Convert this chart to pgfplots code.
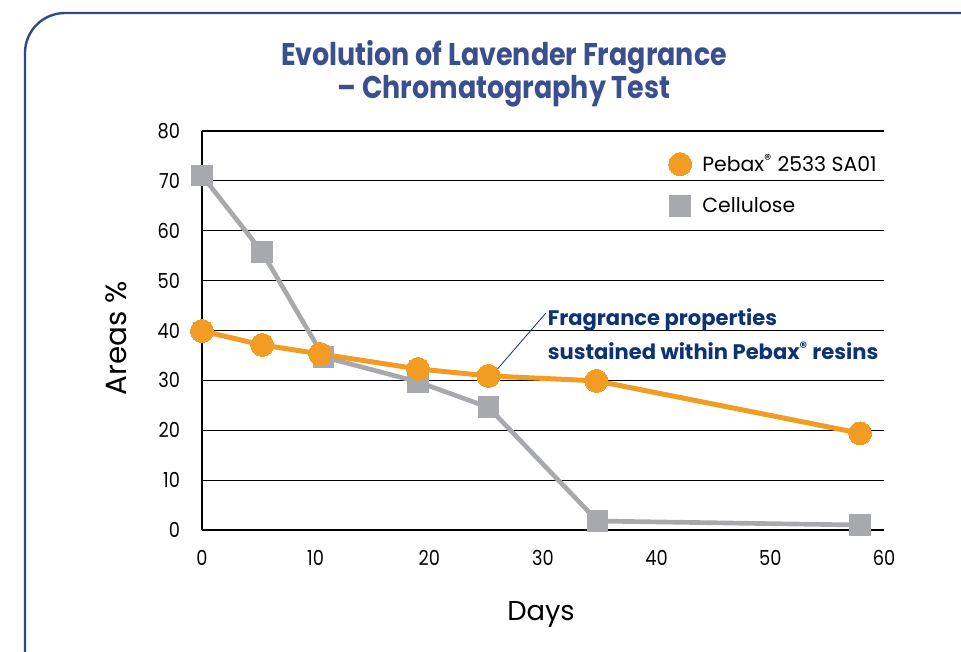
\documentclass[border=0pt]{standalone}
\usepackage{fontspec}
\setmainfont{Poppins}
\newfontfamily\condfont[FakeStretch=0.86]{Poppins}
\usepackage{pgfplots}
\pgfplotsset{compat=1.18}

\definecolor{pebax}{HTML}{F39C24}
\definecolor{cellu}{HTML}{A7A9AC}
\definecolor{frameblue}{HTML}{2F4A8C}
\definecolor{titleblue}{HTML}{3B4F8F}
\definecolor{notenavy}{HTML}{0E3375}

\begin{document}
\begin{tikzpicture}
% page = 961x651 px, 1px = 0.75pt, axis origin at px (202,530)
\useasboundingbox (-151.5pt,-90.75pt) rectangle (569.25pt,397.5pt);
\begin{scope}
  \clip (-151.5pt,-90.75pt) rectangle (569.25pt,397.5pt);
  \draw[frameblue, line width=1.8pt, rounded corners=30pt]
    (-132.75pt,-160pt) rectangle (640pt,387.75pt);
\end{scope}

\begin{axis}[
    at={(0pt,0pt)}, anchor=south west,
    scale only axis,
    width=511.5pt, height=299.25pt,
    xmin=0, xmax=60, ymin=0, ymax=80,
    xtick={0,10,...,60}, ytick={0,10,...,80},
    axis x line=bottom, axis y line=left,
    axis line style={-, line width=0.9pt, black},
    major tick length=0pt,
    ymajorgrids,
    grid style={black, line width=0.9pt},
    /pgf/number format/assume math mode=true,
    tick label style={font=\condfont\fontsize{15.5}{17}\selectfont},
    xticklabel style={yshift=-12pt},
    yticklabel style={xshift=-13pt},
    clip=false,
    legend cell align=left,
    legend style={draw=none, fill=none, inner sep=0pt,
        at={(0.684,0.948)}, anchor=north west,
        font=\fontsize{15.3}{17}\selectfont, row sep=14pt,
        /tikz/every odd column/.append style={column sep=6pt}},
]
\addplot[cellu, line width=3.5pt, mark=square*, mark size=7.75pt,
    mark options={fill=cellu, draw=cellu, line width=0pt}, forget plot]
  coordinates {(0,71.1) (5.3,55.7) (10.7,34.7) (19,29.7) (25.2,24.6) (34.8,1.8) (57.9,1.0)};
\addplot[pebax, line width=3.75pt, mark=*, mark size=8.6pt,
    mark options={fill=pebax, draw=pebax, line width=0pt}, forget plot]
  coordinates {(0,39.9) (5.3,37.1) (10.4,35.3) (19,32.3) (25.2,30.9) (34.7,29.9) (57.9,19.4)};

\addlegendimage{only marks, pebax, mark=*, mark size=8.6pt, mark options={fill=pebax, draw=pebax, line width=0pt}}
\addlegendentry{Pebax\textsuperscript{\textregistered} 2533 SA01}
\addlegendimage{only marks, cellu, mark=square*, mark size=7.75pt, mark options={fill=cellu, draw=cellu, line width=0pt}}
\addlegendentry{Cellulose}

\draw[notenavy, line width=0.6pt] (axis cs:30.25,43.5) -- (axis cs:25.7,31.5);
\node[anchor=base west, inner sep=0pt, notenavy, font=\bfseries\fontsize{15.8}{18}\selectfont]
  at (axis cs:30.4,41.1) {Fragrance properties};
\node[anchor=base west, inner sep=0pt, notenavy, font=\bfseries\fontsize{15.8}{18}\selectfont]
  at (axis cs:30.4,34.1) {sustained within Pebax\textsuperscript{\textregistered} resins};
\end{axis}

\node[titleblue, align=center, font=\condfont\bfseries\fontsize{23.5}{21.75}\selectfont]
  at (226.5pt,342pt) {Evolution of Lavender Fragrance\\ – Chromatography Test};
\node[rotate=90, font=\fontsize{22}{24}\selectfont] at (-64.5pt,144pt) {Areas \%};
\node[font=\fontsize{20.5}{22}\selectfont] at (254.25pt,-63pt) {Days};
\end{tikzpicture}
\end{document}
